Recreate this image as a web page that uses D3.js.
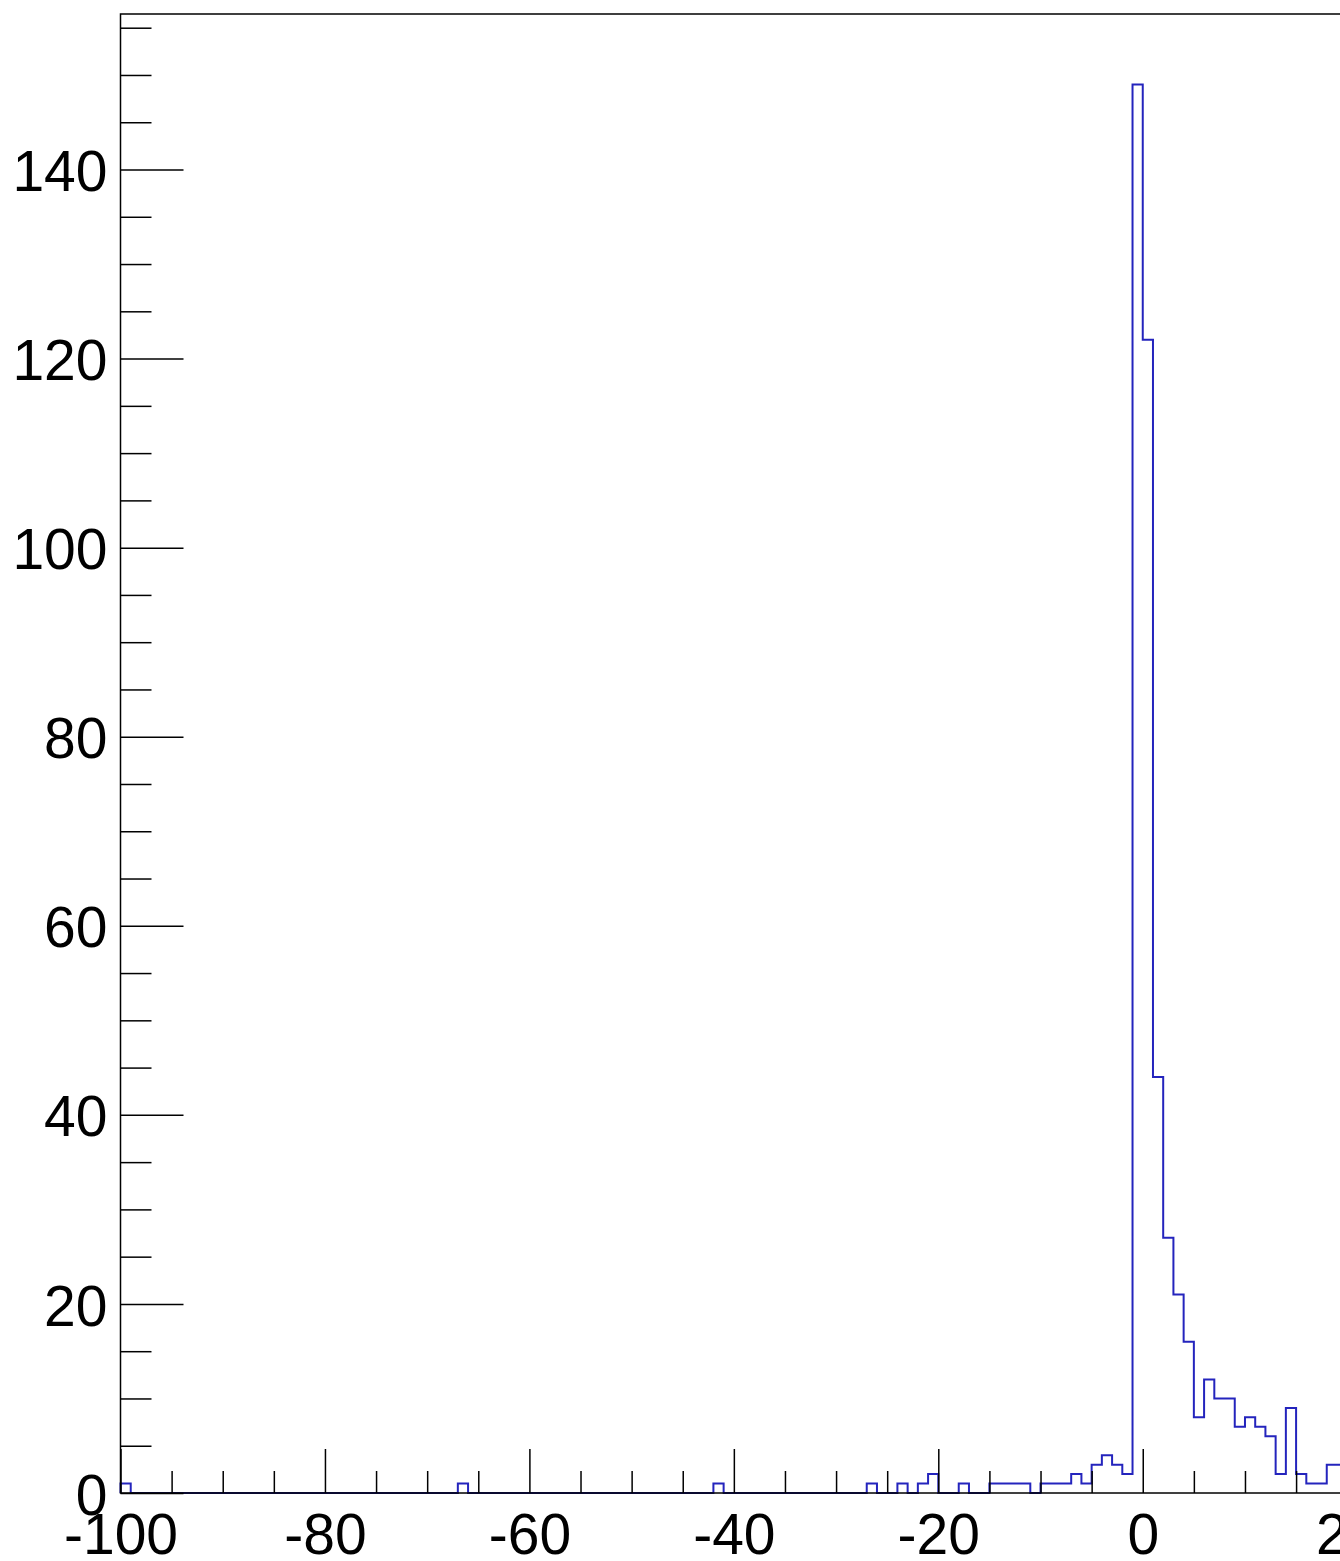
<!DOCTYPE html>
<html>
<head>
<meta charset="utf-8">
<script src="https://cdn.jsdelivr.net/npm/d3@7"></script>
<style>
  html, body { margin: 0; padding: 0; background: #fff; overflow: hidden; }
  #chart { width: 1340px; height: 1561px; }
</style>
</head>
<body>
<div id="chart"></div>
<script>
// histogram: 1-unit bins, first bin starts at -100 (only the visible bins, -100..19)
const binStart = -100;
const binWidth = 1;
const counts = [
    1, 0, 0, 0, 0, 0, 0, 0, 0, 0,      // -100 .. -91
    0, 0, 0, 0, 0, 0, 0, 0, 0, 0,      // -90 .. -81
    0, 0, 0, 0, 0, 0, 0, 0, 0, 0,      // -80 .. -71
    0, 0, 0, 1, 0, 0, 0, 0, 0, 0,      // -70 .. -61
    0, 0, 0, 0, 0, 0, 0, 0, 0, 0,      // -60 .. -51
    0, 0, 0, 0, 0, 0, 0, 0, 1, 0,      // -50 .. -41
    0, 0, 0, 0, 0, 0, 0, 0, 0, 0,      // -40 .. -31
    0, 0, 0, 1, 0, 0, 1, 0, 1, 2,      // -30 .. -21
    0, 0, 1, 0, 0, 1, 1, 1, 1, 0,      // -20 .. -11
    1, 1, 1, 2, 1, 3, 4, 3, 2, 149,    // -10 .. -1
    122, 44, 27, 21, 16, 8, 12, 10, 10, 7,  // 0 .. 9
    8, 7, 6, 2, 9, 2, 1, 1, 3, 3       // 10 .. 19
];

const xDomain = [-100, 100];
const yDomain = [0, 156.45];
const xMajorTicks = [-100, -80, -60, -40, -20, 0, 20, 40, 60, 80, 100];
const yMajorTicks = [0, 20, 40, 60, 80, 100, 120, 140];

const width = 1340;
const height = 1561;
const frame = { left: 120.5, top: 14, right: 2165, bottom: 1493 };

const svg = d3.select("#chart")
    .append("svg")
    .attr("width", width)
    .attr("height", height)
    .style("font-family", "'Liberation Sans', Arial, Helvetica, sans-serif");

const x = d3.scaleLinear()
    .domain(xDomain)
    .range([frame.left, frame.right]);

const y = d3.scaleLinear()
    .domain(yDomain)
    .range([frame.bottom, frame.top]);

// minor ticks every 5
const xMinorTicks = d3.range(xDomain[0], xDomain[1] + 0.001, 5).filter(v => v % 20 !== 0);
const yMinorTicks = d3.range(0, yDomain[1], 5).filter(v => v % 20 !== 0);

// plain hyphen for negatives, like the original
const fmt = d => String(d);

// histogram outline (step line)
const pts = [[binStart, 0]];
counts.forEach((c, i) => {
    const lo = binStart + i * binWidth;
    pts.push([lo, c]);
    pts.push([lo + binWidth, c]);
});
pts.push([binStart + counts.length * binWidth, 0]);

svg.append("path")
    .datum(pts)
    .attr("fill", "none")
    .attr("stroke", "#2424bd")
    .attr("stroke-width", 2)
    .attr("d", d3.line().x(d => x(d[0])).y(d => y(d[1])));

// y axis
svg.append("g")
    .attr("transform", `translate(${frame.left},0)`)
    .call(d3.axisLeft(y).tickValues(yMinorTicks).tickSize(-31).tickFormat(""))
    .call(g => g.select(".domain").remove());

svg.append("g")
    .attr("transform", `translate(${frame.left},0)`)
    .call(d3.axisLeft(y).tickValues(yMajorTicks).tickSize(-63).tickPadding(13).tickFormat(fmt))
    .call(g => g.select(".domain").remove())
    .selectAll("text")
    .attr("dy", "0.37em")
    .style("font-size", "57px")
    .attr("fill", "#000");

// x axis
svg.append("g")
    .attr("transform", `translate(0,${frame.bottom})`)
    .call(d3.axisBottom(x).tickValues(xMinorTicks).tickSize(-22).tickFormat(""))
    .call(g => g.select(".domain").remove());

svg.append("g")
    .attr("transform", `translate(0,${frame.bottom})`)
    .call(d3.axisBottom(x).tickValues(xMajorTicks).tickSize(-44).tickPadding(21).tickFormat(fmt))
    .call(g => g.select(".domain").remove())
    .selectAll("text")
    .style("font-size", "57px")
    .attr("fill", "#000");

svg.selectAll(".tick line")
    .attr("stroke", "#000")
    .attr("stroke-width", 1.5);

// frame
svg.append("rect")
    .attr("x", frame.left)
    .attr("y", frame.top)
    .attr("width", frame.right - frame.left)
    .attr("height", frame.bottom - frame.top)
    .attr("fill", "none")
    .attr("stroke", "#000")
    .attr("stroke-width", 1.5);
</script>
</body>
</html>
